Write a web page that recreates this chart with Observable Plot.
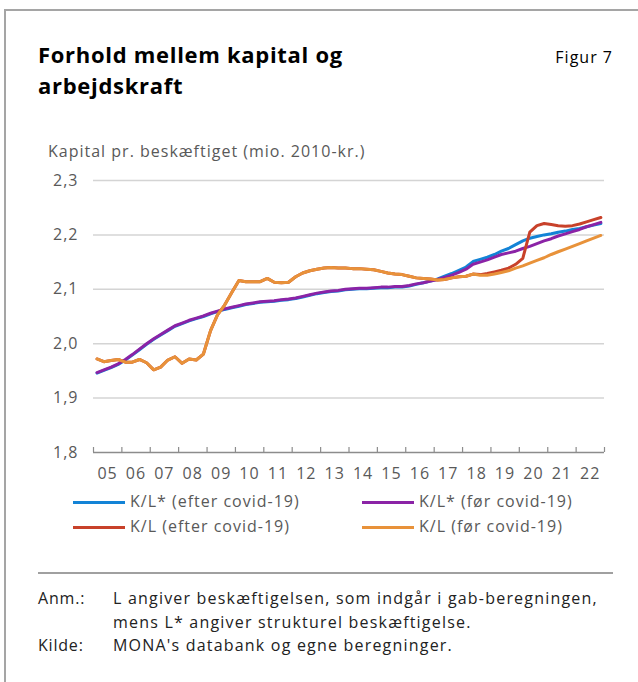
<!DOCTYPE html>
<html>
<head>
<meta charset="utf-8">
<script src="https://cdn.jsdelivr.net/npm/d3@7"></script>
<script src="https://cdn.jsdelivr.net/npm/@observablehq/plot@0.6"></script>
<style>
  html, body { margin: 0; padding: 0; background: #fff; }
  #wrap { position: relative; width: 638px; height: 682px; overflow: hidden; font-family: "Open Sans", sans-serif; }
  .frame { position: absolute; left: 4px; top: 9px; width: 700px; height: 700px; border-top: 2px solid #a5a5a5; border-left: 2px solid #a5a5a5; }
  .title { position: absolute; left: 38px; top: 39px; font-size: 22px; line-height: 31px; font-weight: 700; letter-spacing: 0.7px; color: #000; }
  .fig { position: absolute; right: 25px; top: 46px; font-size: 16px; letter-spacing: 1px; color: #000; }
  .ytitle { position: absolute; left: 48px; top: 140px; font-size: 16px; letter-spacing: 1px; color: #595959; white-space: nowrap; }
  #chart { position: absolute; left: 0; top: 165px; }
  .leg { position: absolute; font-size: 16px; letter-spacing: 1px; color: #595959; white-space: nowrap; line-height: 22px; }
  .sw { position: absolute; height: 3px; width: 52px; }
  .sep { position: absolute; left: 38px; top: 572px; width: 575px; height: 2px; background: #a0a0a0; }
  .note { position: absolute; font-size: 16px; color: #222; line-height: 23.5px; letter-spacing: 1.2px; white-space: nowrap; }
</style>
</head>
<body>
<div id="wrap">
  <div class="frame"></div>
  <div class="title">Forhold mellem kapital og<br>arbejdskraft</div>
  <div class="fig">Figur 7</div>
  <div class="ytitle">Kapital pr. beskæftiget (mio. 2010-kr.)</div>
  <div id="chart"></div>
  <div id="legend"></div>
  <div class="sep"></div>
  <div class="note" style="left:38px; top:587px; letter-spacing:0.8px;">Anm.:<br><br>Kilde:</div>
  <div class="note" style="left:113px; top:587px;">L angiver beskæftigelsen, som indgår i gab-beregningen,<br>mens L* angiver strukturel beskæftigelse.<br>MONA's databank og egne beregninger.</div>
</div>
<script>
// ---- Data (quarterly, 2005K1 - 2022K4) ----
const years = [2005,2006,2007,2008,2009,2010,2011,2012,2013,2014,2015,2016,2017,2018,2019,2020,2021,2022];
const yearLabels = ["05","06","07","08","09","10","11","12","13","14","15","16","17","18","19","20","21","22"];
const quarterNumbers = [1,2,3,4];
const yTicks = [1.8, 1.9, 2.0, 2.1, 2.2, 2.3];

const seriesNames = ["K/L* (efter covid-19)", "K/L* (før covid-19)", "K/L (efter covid-19)", "K/L (før covid-19)"];
const seriesColors = ["#1383d6", "#8b23a6", "#c8412a", "#e8923a"];

// K/L* (efter covid-19)
const klStarAfter = [
  1.946,1.951,1.956,1.962, 1.970,1.979,1.989,1.999, 2.008,2.016,2.024,2.032, 2.037,2.042,2.046,2.050,
  2.055,2.059,2.063,2.066, 2.069,2.072,2.074,2.076, 2.077,2.078,2.080,2.081, 2.083,2.086,2.089,2.092,
  2.094,2.096,2.097,2.099, 2.100,2.101,2.101,2.102, 2.103,2.103,2.104,2.104, 2.106,2.109,2.112,2.115,
  2.119,2.124,2.129,2.135, 2.141,2.151,2.155,2.159, 2.164,2.170,2.175,2.182, 2.189,2.194,2.197,2.200,
  2.202,2.205,2.207,2.210, 2.212,2.215,2.218,2.221
];
// K/L* (før covid-19)
const klStarBefore = [
  1.947,1.952,1.957,1.963, 1.971,1.980,1.990,2.000, 2.009,2.017,2.025,2.033, 2.038,2.043,2.047,2.051,
  2.056,2.060,2.064,2.067, 2.070,2.073,2.075,2.077, 2.078,2.079,2.081,2.082, 2.084,2.087,2.090,2.093,
  2.095,2.097,2.098,2.100, 2.101,2.102,2.102,2.103, 2.104,2.104,2.105,2.105, 2.107,2.110,2.112,2.115,
  2.118,2.122,2.126,2.131, 2.137,2.146,2.150,2.154, 2.159,2.164,2.167,2.170, 2.175,2.179,2.184,2.189,
  2.193,2.198,2.202,2.206, 2.210,2.215,2.219,2.223
];
// K/L (efter covid-19)
const klAfter = [
  1.972,1.967,1.969,1.971, 1.966,1.966,1.971,1.965, 1.952,1.957,1.970,1.976, 1.964,1.972,1.970,1.981,
  2.024,2.053,2.071,2.094, 2.116,2.114,2.114,2.114, 2.120,2.113,2.112,2.113, 2.123,2.130,2.134,2.137,
  2.139,2.140,2.139,2.139, 2.138,2.138,2.137,2.136, 2.133,2.130,2.128,2.127, 2.124,2.121,2.120,2.119,
  2.117,2.118,2.121,2.123, 2.124,2.128,2.127,2.129, 2.132,2.135,2.139,2.146, 2.157,2.205,2.217,2.221,
  2.219,2.217,2.216,2.217, 2.220,2.224,2.228,2.232
];
// K/L (før covid-19)
const klBefore = [
  1.972,1.967,1.969,1.971, 1.966,1.966,1.971,1.965, 1.952,1.957,1.970,1.976, 1.964,1.972,1.970,1.981,
  2.024,2.053,2.071,2.094, 2.116,2.114,2.114,2.114, 2.120,2.113,2.112,2.113, 2.123,2.130,2.134,2.137,
  2.139,2.140,2.139,2.139, 2.138,2.138,2.137,2.136, 2.133,2.130,2.128,2.127, 2.124,2.121,2.120,2.119,
  2.117,2.118,2.121,2.123, 2.124,2.128,2.126,2.126, 2.128,2.131,2.134,2.139, 2.143,2.148,2.153,2.158,
  2.164,2.169,2.174,2.179, 2.184,2.189,2.194,2.199
];

// ---- Build table ----
const quarterDates = [];
years.forEach(y => quarterNumbers.forEach(q => quarterDates.push(new Date(Date.UTC(y, (q - 1) * 3 + 1, 15)))));
const seriesValues = [klStarAfter, klStarBefore, klAfter, klBefore];
const rows = [];
seriesValues.forEach((vals, s) => vals.forEach((v, i) => rows.push({date: quarterDates[i], value: v, series: seriesNames[s]})));

const yearStarts = years.map(y => new Date(Date.UTC(y, 0, 1))).concat([new Date(Date.UTC(years[years.length - 1] + 1, 0, 1))]);
const yearMids = years.map(y => new Date(Date.UTC(y, 6, 1)));
const x0 = yearStarts[0];
const comma = d => d3.format(".1f")(d).replace(".", ",");

const chart = Plot.plot({
  width: 638,
  height: 320,
  marginLeft: 93,
  marginRight: 34,
  marginTop: 15,
  marginBottom: 33,
  style: {fontFamily: "Open Sans, sans-serif", fontSize: "16px", background: "transparent", letterSpacing: "1px"},
  x: {type: "utc", domain: [yearStarts[0], yearStarts[yearStarts.length - 1]], axis: null},
  y: {domain: [1.8, 2.3], axis: null},
  color: {domain: seriesNames, range: seriesColors},
  marks: [
    Plot.ruleY(yTicks.filter(d => d > 1.8), {y: d => d, stroke: "#d4d4d4", strokeWidth: 1.5}),
    Plot.ruleY([1.8], {y: d => d, stroke: "#8c8c8c", strokeWidth: 1.5}),
    Plot.ruleX(yearStarts, {x: d => d, y1: () => 1.8, y2: () => 1.8, insetTop: -5, stroke: "#8c8c8c", strokeWidth: 1.2}),
    Plot.text(yTicks, {x: () => x0, y: d => d, text: comma, dx: -15, textAnchor: "end", fill: "#595959", fontSize: 16}),
    Plot.text(yearMids, {x: d => d, y: () => 1.8, text: (d, i) => yearLabels[i], dy: 21, fill: "#595959", fontSize: 16}),
    Plot.line(rows, {x: "date", y: "value", z: "series", stroke: "series", strokeWidth: 3, strokeLinejoin: "round", strokeLinecap: "round"})
  ]
});
document.getElementById("chart").appendChild(chart);

// ---- Legend ----
const legend = document.getElementById("legend");
const legPos = [
  {sx: 73, tx: 130, y: 502}, {sx: 362, tx: 419, y: 502},
  {sx: 73, tx: 130, y: 527}, {sx: 362, tx: 419, y: 527}
];
seriesNames.forEach((name, i) => {
  const p = legPos[i];
  const sw = document.createElement("div");
  sw.className = "sw";
  sw.style.left = p.sx + "px";
  sw.style.top = (p.y - 1.5) + "px";
  sw.style.background = seriesColors[i];
  legend.appendChild(sw);
  const t = document.createElement("div");
  t.className = "leg";
  t.style.left = p.tx + "px";
  t.style.top = (p.y - 12) + "px";
  t.textContent = name;
  legend.appendChild(t);
});
</script>
</body>
</html>
